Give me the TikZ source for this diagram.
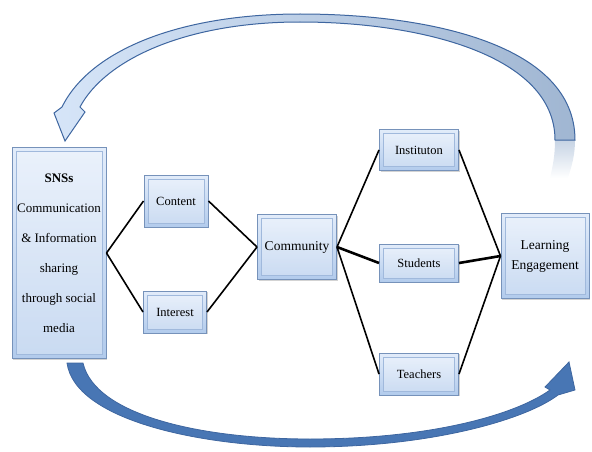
\documentclass[tikz,border=0pt]{standalone}
\usepackage{fontspec}
\setmainfont{Liberation Serif}
\usetikzlibrary{shadows}
\definecolor{boxline}{RGB}{118,146,186}
\definecolor{boxtop}{RGB}{226,236,250}
\definecolor{boxbot}{RGB}{178,203,236}
\definecolor{boxinner}{RGB}{160,185,220}
\definecolor{arrowline}{RGB}{62,102,160}
\definecolor{arrowdark}{RGB}{72,118,180}
\definecolor{arrowlight}{RGB}{214,229,248}
\definecolor{arrowgray}{RGB}{160,182,210}
\begin{document}
\begin{tikzpicture}[x=1pt,y=-1pt]
    \tikzstyle{box} = [draw=boxline, line width=1pt, top color=boxtop, bottom color=boxbot,
      inner sep=0pt, align=center, font=\fontsize{12.5}{14}\selectfont,
      drop shadow={shadow xshift=1.2pt, shadow yshift=-1.2pt, opacity=0.35},
      path picture={\draw[boxinner, line width=0.6pt, fill=white, fill opacity=0.3]
        ([shift={(4pt,-4pt)}]path picture bounding box.north west) rectangle
        ([shift={(-4pt,4pt)}]path picture bounding box.south east);}]
    \tikzstyle{link} = [line width=1.6pt, black]
    \useasboundingbox (0,0) rectangle (592,452);

    % boxes
    \node[box, minimum width=94pt, minimum height=211pt,
      font=\fontsize{13}{30}\selectfont] (sns) at (59,253)
      {\textbf{SNSs}\\Communication\\\& Information\\sharing\\through social\\media};
    \node[box, minimum width=64pt, minimum height=52pt] (content) at (176,201) {Content};
    \node[box, minimum width=63pt, minimum height=42pt] (interest) at (175,312) {Interest};
    \node[box, minimum width=79pt, minimum height=65pt, font=\fontsize{13.5}{15}\selectfont]
      (community) at (297,247) {Community};
    \node[box, minimum width=79pt, minimum height=41pt] (inst) at (419,150) {Instituton};
    \node[box, minimum width=79pt, minimum height=38pt] (stud) at (419,263) {Students};
    \node[box, minimum width=79pt, minimum height=42pt] (teach) at (419,374) {Teachers};
    \node[box, minimum width=88pt, minimum height=85pt,
      font=\fontsize{13.5}{20}\selectfont] (learn) at (545,256) {Learning\\Engagement};

    % links
    \draw[link] (sns.east) -- (content.west);
    \draw[link] (sns.east) -- (interest.west);
    \draw[link] (content.east) -- (community.west);
    \draw[link] (interest.east) -- (community.west);
    \draw[link] (community.east) -- (inst.west);
    \draw[link, line width=2.6pt] (community.east) -- (stud.west);
    \draw[link] (community.east) -- (teach.west);
    \draw[link] (inst.east) -- (learn.west);
    \draw[link, line width=2.6pt] (stud.east) -- (learn.west);
    \draw[link] (teach.east) -- (learn.west);

    % top arrow back to SNSs
    \shade[top color=arrowgray!60, bottom color=white]
      (555,140) -- (575,140) .. controls (575,155) and (572,165) .. (568,178)
      -- (550,178) .. controls (553,165) and (555,155) .. (555,140) -- cycle;
    \draw[arrowline, line width=1pt, left color=arrowlight, right color=arrowgray]
      (575,140) .. controls (575,45) and (430,14) .. (300,14)
      .. controls (180,14) and (90,50) .. (62,107)
      -- (54,113) -- (65,141) -- (85,112) -- (80,107)
      .. controls (105,60) and (185,22) .. (300,22)
      .. controls (420,22) and (555,55) .. (555,140) -- cycle;

    % bottom arrow to Learning Engagement
    \draw[arrowline, line width=0.8pt, fill=arrowdark]
      (67,363) .. controls (75,420) and (200,447) .. (310,447)
      .. controls (430,447) and (525,420) .. (558,395)
      -- (575,390) -- (569,362) -- (545,387) -- (550,390)
      .. controls (515,415) and (430,439) .. (310,439)
      .. controls (200,439) and (95,415) .. (83,363) -- cycle;
\end{tikzpicture}
\end{document}
